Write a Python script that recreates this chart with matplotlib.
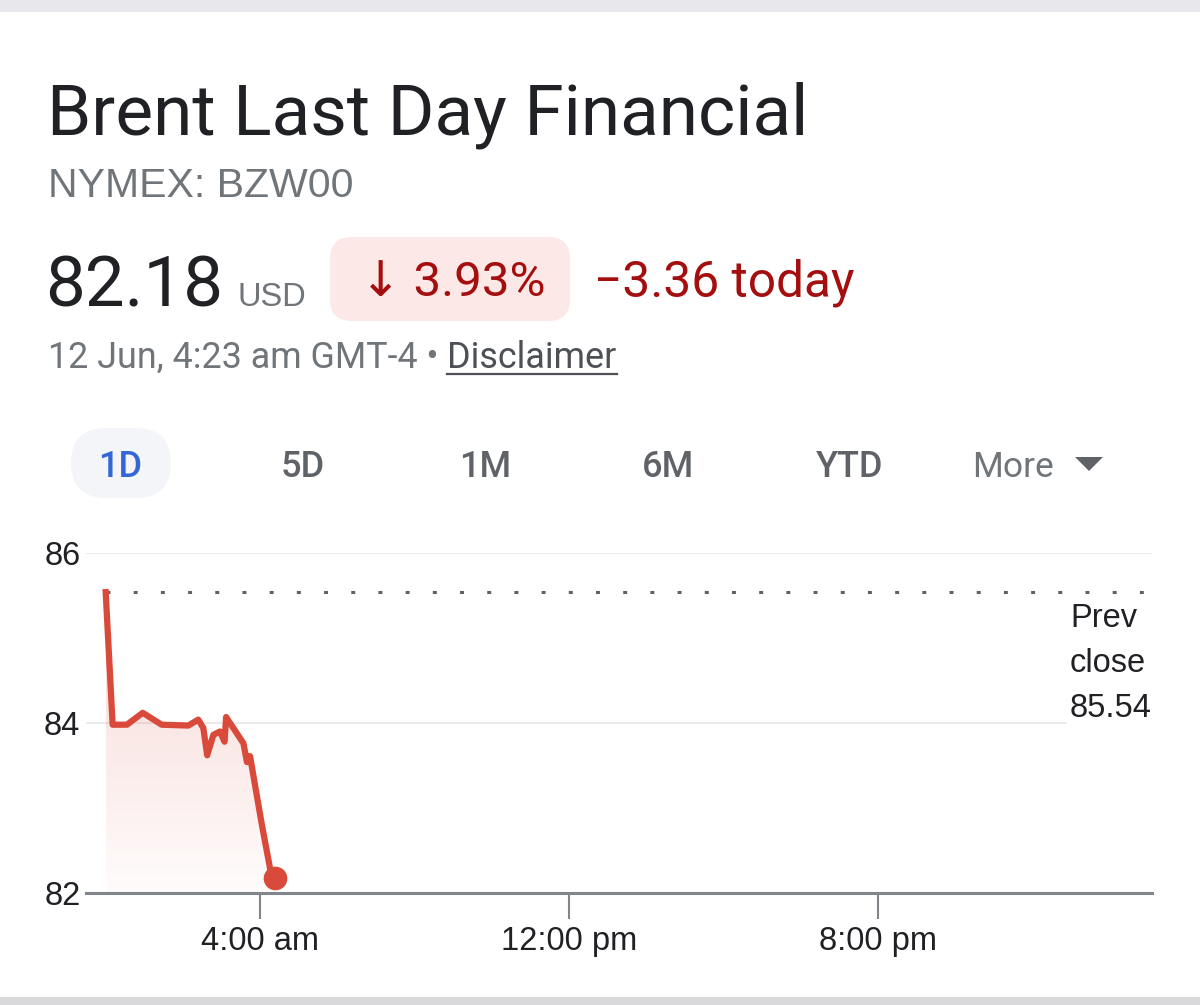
import numpy as np
import matplotlib
matplotlib.use('Agg')
import matplotlib.pyplot as plt
from matplotlib.patches import FancyBboxPatch, Rectangle, Polygon
from matplotlib.colors import to_rgb

# intraday prices, hours after midnight (GMT-4)
hours = [0.0, 0.18, 0.55, 0.96, 1.45, 2.14, 2.40, 2.53, 2.63, 2.79, 2.96,
         3.08, 3.12, 3.57, 3.66, 3.74, 4.04, 4.30, 4.38]
prices = [85.54, 83.98, 83.98, 84.12, 83.98, 83.97, 84.04, 83.94, 83.62, 83.86, 83.90,
          83.78, 84.07, 83.76, 83.54, 83.61, 82.82, 82.19, 82.18]
prev_close = 85.54
y_ticks = [82, 84, 86]
x_ticks = [4, 12, 20]
x_labels = ['4:00 am', '12:00 pm', '8:00 pm']
tabs = ['1D', '5D', '1M', '6M', 'YTD']

red = '#d94a3b'
gray = '#70757a'
dark = '#202124'
hfont = ['Roboto', 'DejaVu Sans']
cfont = ['Liberation Sans', 'DejaVu Sans']

fig = plt.figure(figsize=(12, 10.05), dpi=100)
fig.patch.set_facecolor('white')

# pixel-space layer for the header
bg = fig.add_axes([0, 0, 1, 1])
bg.set_xlim(0, 1200)
bg.set_ylim(1005, 0)
bg.axis('off')

bg.add_patch(Rectangle((0, 0), 1200, 12, fc='#e8e8ec', ec='none'))
bg.add_patch(Rectangle((0, 997), 1200, 8, fc='#d9d9dc', ec='none'))

bg.text(47, 134, 'Brent Last Day Financial', fontsize=51.2, color=dark, family=hfont, va='baseline')
bg.text(48, 197, 'NYMEX: BZW00', fontsize=29.5, color=gray, family=cfont, va='baseline')
bg.text(45, 306, '82.18', fontsize=51, color=dark, family=hfont, va='baseline')
bg.text(238, 306, 'USD', fontsize=23.5, color=gray, family=cfont, va='baseline')

bg.add_patch(FancyBboxPatch((330, 237), 240, 84, boxstyle='round,pad=0,rounding_size=22',
                            fc='#fce8e6', ec='none'))
bg.text(360, 296, '\u2193 3.93%', fontsize=35.5, color='#a50e0e', family=hfont, va='baseline')
bg.text(594, 296, '\u22123.36 today', fontsize=35.7, color='#a50e0e', family=hfont, va='baseline')

date_txt = bg.text(48, 368, '12 Jun, 4:23 am GMT-4 \u2022 ', fontsize=25.8, color=gray,
                   family=hfont, va='baseline')
fig.canvas.draw()
ext = date_txt.get_window_extent().transformed(bg.transData.inverted())
disc = bg.text(ext.x1, 368, 'Disclaimer', fontsize=25.8, color='#4d5156', family=hfont, va='baseline')
fig.canvas.draw()
dext = disc.get_window_extent().transformed(bg.transData.inverted())
bg.plot([dext.x0, dext.x1], [374, 374], color='#4d5156', lw=1.6)

# range tabs
bg.add_patch(FancyBboxPatch((71, 428), 100, 70, boxstyle='round,pad=0,rounding_size=35',
                            fc='#f3f5f9', ec='none'))
tab_x = [120, 303, 485, 668, 850]
for name, tx in zip(tabs, tab_x):
    bg.text(tx, 477, name, fontsize=26, ha='center', va='baseline', family=hfont,
            weight='medium', color='#3367d6' if name == '1D' else '#5f6368')
bg.text(972, 477, 'More', fontsize=25.5, va='baseline', family=hfont, color=gray)
bg.add_patch(Polygon([(1075, 457), (1103, 457), (1089, 471)], closed=True, fc='#5f6368', ec='none'))

# chart
ax = fig.add_axes([86 / 1200, 1 - 893 / 1005, (1152 - 86) / 1200, (893 - 553) / 1005])
ax.patch.set_alpha(0)

poly = ax.fill_between(hours, prices, y_ticks[0], color='none', lw=0)
grad = np.linspace(1, 0, 256).reshape(-1, 1)
rgba = np.zeros((256, 1, 4))
rgba[..., :3] = to_rgb(red)
rgba[..., 3] = 0.02 + 0.2 * grad
im = ax.imshow(rgba, extent=[hours[0], hours[-1], y_ticks[0], max(prices)],
               aspect='auto', origin='upper', zorder=1)
im.set_clip_path(poly.get_paths()[0], transform=ax.transData)

ax.axhline(86, color='#ebebeb', lw=1.5, zorder=0)
ax.axhline(84, xmax=(1066 - 86) / 1066, color='#ebebeb', lw=1.5, zorder=0)

ax.plot([hours[0], 27.11], [prev_close, prev_close], color='#5f6368', lw=2.2,
        linestyle=(0, (1.3, 7.6)), zorder=2, clip_on=False)
ax.plot(hours, prices, color=red, lw=4.5, zorder=3, clip_on=False)
ax.plot(hours[-1], prices[-1], 'o', ms=16, color=red, zorder=4, clip_on=False)

ax.set_xlim(-0.51, 27.11)
ax.set_ylim(82, 86)
for s in ['top', 'right', 'left']:
    ax.spines[s].set_visible(False)
ax.spines['bottom'].set_color('#80868b')
ax.spines['bottom'].set_linewidth(2.2)
ax.spines['bottom'].set_zorder(5)

ax.set_yticks(y_ticks)
ax.set_yticklabels([str(v) for v in y_ticks])
ax.tick_params(axis='y', length=0, pad=4, labelsize=23.5, labelcolor=dark)
ax.set_xticks(x_ticks)
ax.set_xticklabels(x_labels)
ax.tick_params(axis='x', length=19, width=1.5, color='#80868b', pad=5,
               labelsize=23.5, labelcolor=dark)
for lab in ax.get_xticklabels() + ax.get_yticklabels():
    lab.set_family(cfont)

for txt, ty in zip(['Prev', 'close', '85.54'], [627, 672, 717]):
    ax.text(1070, ty, txt, transform=bg.transData, fontsize=23.5, color=dark,
            family=cfont, va='baseline')

fig.savefig('out.png', dpi=100)
